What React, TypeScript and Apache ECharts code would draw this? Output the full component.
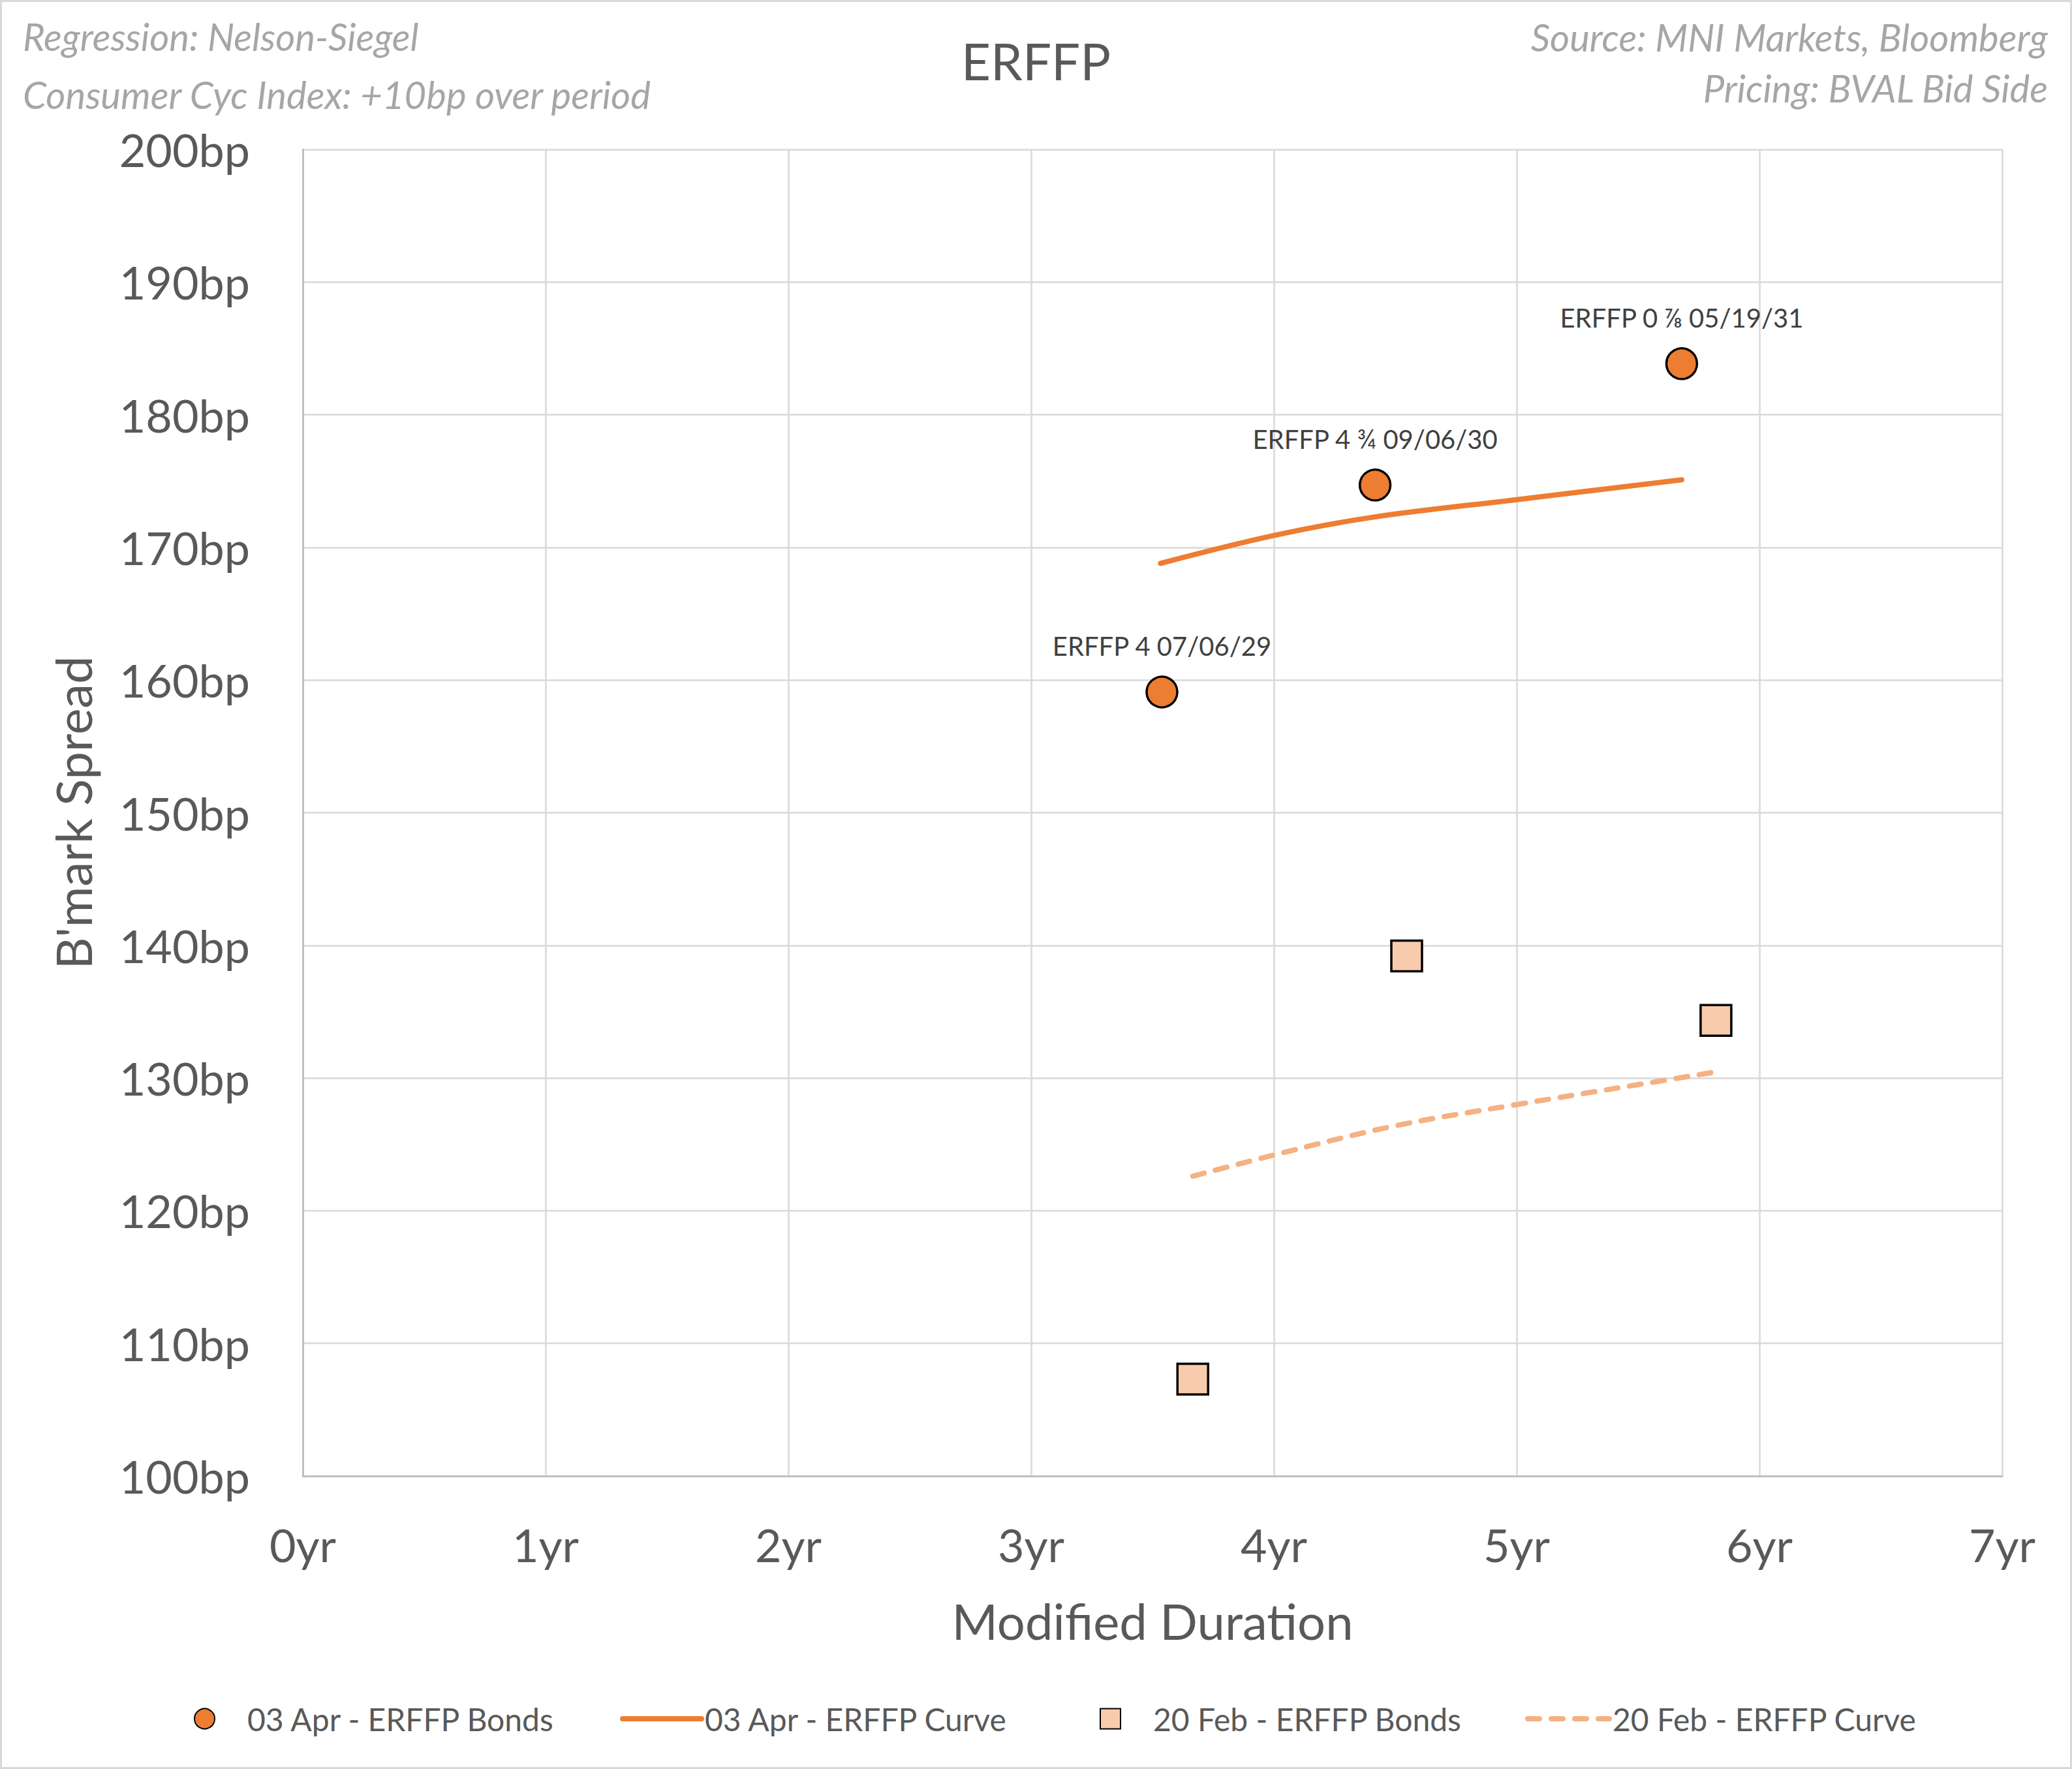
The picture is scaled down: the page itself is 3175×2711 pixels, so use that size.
import React, { useEffect, useRef } from "react";
import * as echarts from "echarts";

const W = 3175;
const H = 2711;
const FONT = "Lato, 'Open Sans', sans-serif";

// ---- data ----
const xTickMin = 0;
const xTickMax = 7;
const yTickMin = 100;
const yTickMax = 200;

const aprBondNames = ["ERFFP 4 07/06/29", "ERFFP 4 ¾ 09/06/30", "ERFFP 0 ⅞ 05/19/31"];
const aprBondDur = [3.539, 4.417, 5.68];
const aprBondSpread = [159.1, 174.7, 183.85];

const aprCurveDur = [3.533, 4.0, 4.417, 5.0, 5.68];
const aprCurveSpread = [168.8, 170.9, 172.3, 173.6, 175.1];

const febBondDur = [3.666, 4.547, 5.821];
const febBondSpread = [107.3, 139.2, 134.35];

const febCurveDur = [3.666, 4.0, 4.5, 5.0, 5.5, 5.8];
const febCurveSpread = [122.6, 124.2, 126.4, 128.0, 129.5, 130.4];

const seriesNames = [
  "03 Apr - ERFFP Bonds",
  "03 Apr - ERFFP Curve",
  "20 Feb - ERFFP Bonds",
  "20 Feb - ERFFP Curve",
];

const notesLeft = ["Regression: Nelson-Siegel", "Consumer Cyc Index: +10bp over period"];
const notesRight = ["Source: MNI Markets, Bloomberg", "Pricing: BVAL Bid Side"];

const ORANGE = "#ED7D31";
const PEACH = "#F8CBAD";
const LIGHT_ORANGE = "#F4B183";
const TXT = "#595959";

export default function App() {
  const ref = useRef<HTMLDivElement>(null);

  useEffect(() => {
    document.body.style.margin = "0";
    if (!ref.current) return;
    const chart = echarts.init(ref.current, undefined, { renderer: "svg" });

    const legendText = { fontSize: 48, color: TXT, fontFamily: FONT };
    const legendTop = 2610;

    const option: any = {
      animation: false,
      backgroundColor: "#ffffff",
      title: {
        text: "ERFFP",
        left: "center",
        top: 54,
        padding: 0,
        textStyle: { fontSize: 78, fontWeight: "normal", color: TXT, fontFamily: FONT, lineHeight: 78 },
      },
      grid: { left: 464, right: W - 3068, top: 229, bottom: H - 2262, containLabel: false },
      xAxis: {
        type: "value",
        min: xTickMin,
        max: xTickMax,
        interval: 1,
        axisLine: { show: true, lineStyle: { color: "#bfbfbf", width: 3 } },
        axisTick: { show: false },
        splitLine: { show: true, lineStyle: { color: "#d9d9d9", width: 2.5 } },
        axisLabel: {
          formatter: (v: number) => `${v}yr`,
          fontSize: 70,
          color: TXT,
          margin: 70,
          fontFamily: FONT,
        },
        name: "Modified Duration",
        nameLocation: "middle",
        nameGap: 183,
        nameTextStyle: { fontSize: 76, color: TXT, fontFamily: FONT },
      },
      yAxis: {
        type: "value",
        min: yTickMin,
        max: yTickMax,
        interval: 10,
        axisLine: { show: true, lineStyle: { color: "#bfbfbf", width: 3 } },
        axisTick: { show: false },
        splitLine: { show: true, lineStyle: { color: "#d9d9d9", width: 2.5 } },
        axisLabel: {
          formatter: (v: number) => `${v}bp`,
          fontSize: 70,
          color: TXT,
          margin: 81,
          fontFamily: FONT,
        },
        name: "B'mark Spread",
        nameLocation: "middle",
        nameGap: 315,
        nameTextStyle: { fontSize: 76, color: TXT, fontFamily: FONT },
      },
      legend: [
        {
          data: [seriesNames[0]],
          left: 297,
          top: legendTop,
          padding: 0,
          itemWidth: 121,
          itemHeight: 31,
          selectedMode: false,
          textStyle: legendText,
        },
        {
          data: [seriesNames[1]],
          left: 950,
          top: legendTop,
          padding: 0,
          itemWidth: 121,
          itemHeight: 10,
          selectedMode: false,
          itemStyle: { color: "rgba(0,0,0,0)", borderWidth: 0 },
          lineStyle: { color: ORANGE, width: 8, type: "solid" },
          textStyle: legendText,
        },
        {
          data: [{ name: seriesNames[2], icon: "path://M0,0L10,0L10,10L0,10Z" }],
          left: 1685,
          top: legendTop,
          padding: 0,
          itemWidth: 121,
          itemHeight: 31,
          selectedMode: false,
          textStyle: legendText,
        },
        {
          data: [seriesNames[3]],
          left: 2337,
          top: legendTop,
          padding: 0,
          itemWidth: 125,
          itemHeight: 10,
          selectedMode: false,
          itemStyle: { color: "rgba(0,0,0,0)", borderWidth: 0 },
          lineStyle: { color: LIGHT_ORANGE, width: 8, type: [18, 18], cap: "round" },
          textStyle: legendText,
        },
      ],
      graphic: [
        {
          type: "rect",
          silent: true,
          z: -10,
          shape: { x: 1.5, y: 1.5, width: W - 3, height: H - 3 },
          style: { fill: "none", stroke: "#d9d9d9", lineWidth: 3 },
        },
        ...notesLeft.map((t, i) => ({
          type: "text",
          x: 35,
          y: i === 0 ? 55 : 144,
          style: {
            text: t,
            fill: "#a6a6a6",
            fontSize: 58,
            fontStyle: "italic",
            fontFamily: FONT,
            align: "left",
            verticalAlign: "middle",
          },
        })),
        ...notesRight.map((t, i) => ({
          type: "text",
          x: 3138,
          y: i === 0 ? 56 : 134,
          style: {
            text: t,
            fill: "#a6a6a6",
            fontSize: 58,
            fontStyle: "italic",
            fontFamily: FONT,
            align: "right",
            verticalAlign: "middle",
          },
        })),
      ],
      series: [
        {
          name: seriesNames[1],
          type: "line",
          data: aprCurveDur.map((x, i) => [x, aprCurveSpread[i]]),
          smooth: 0.35,
          symbol: "none",
          itemStyle: { color: ORANGE },
          lineStyle: { color: ORANGE, width: 8, cap: "round" },
          z: 2,
        },
        {
          name: seriesNames[3],
          type: "line",
          data: febCurveDur.map((x, i) => [x, febCurveSpread[i]]),
          smooth: 0.35,
          symbol: "none",
          itemStyle: { color: LIGHT_ORANGE },
          lineStyle: { color: LIGHT_ORANGE, width: 8, type: [18, 18], cap: "round" },
          z: 2,
        },
        {
          name: seriesNames[0],
          type: "scatter",
          data: aprBondDur.map((x, i) => ({ value: [x, aprBondSpread[i]], name: aprBondNames[i] })),
          symbol: "circle",
          symbolSize: 47,
          itemStyle: { color: ORANGE, borderColor: "#000000", borderWidth: 3.5, opacity: 1 },
          label: {
            show: true,
            position: "top",
            distance: 25,
            formatter: "{b}",
            fontSize: 40,
            lineHeight: 40,
            color: "#404040",
            fontFamily: FONT,
          },
          z: 3,
        },
        {
          name: seriesNames[2],
          type: "scatter",
          data: febBondDur.map((x, i) => [x, febBondSpread[i]]),
          symbol: "rect",
          symbolSize: 47,
          itemStyle: { color: PEACH, borderColor: "#000000", borderWidth: 3.5, opacity: 1 },
          z: 3,
        },
      ],
    };

    chart.setOption(option);
    return () => chart.dispose();
  }, []);

  return <div ref={ref} style={{ width: W, height: H }} />;
}
